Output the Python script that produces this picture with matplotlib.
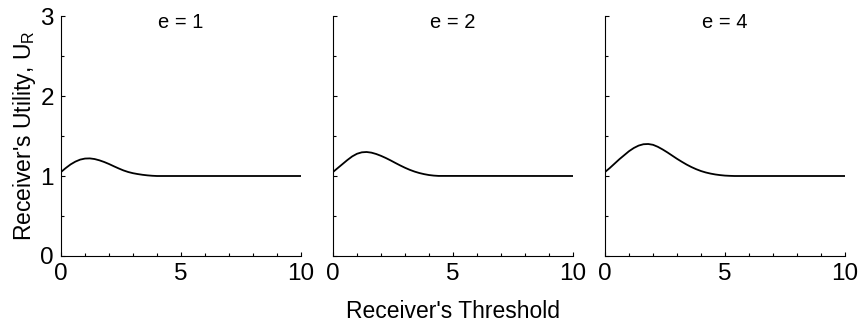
import matplotlib
matplotlib.use('Agg')
import matplotlib.pyplot as plt
from matplotlib.ticker import MultipleLocator

plt.rcParams['font.family'] = ['Liberation Sans', 'DejaVu Sans']

# values
x_e1 = [0, 0.2, 0.4, 0.6, 0.8, 1.0, 1.2, 1.4, 1.6, 1.8, 2.0, 2.2, 2.4, 2.6, 2.8, 3.0, 3.2, 3.4, 3.6, 3.8, 4.0, 10]
u_e1 = [1.05, 1.10, 1.145, 1.18, 1.205, 1.218, 1.22, 1.212, 1.196, 1.175, 1.15, 1.122, 1.095, 1.07, 1.05,
        1.035, 1.024, 1.015, 1.008, 1.003, 1.0, 1.0]

x_e2 = [0, 0.2, 0.4, 0.6, 0.8, 1.0, 1.2, 1.4, 1.6, 1.8, 2.0, 2.2, 2.4, 2.6, 2.8, 3.0, 3.2, 3.4, 3.6, 3.8,
        4.0, 4.2, 4.4, 10]
u_e2 = [1.05, 1.10, 1.15, 1.20, 1.245, 1.278, 1.296, 1.30, 1.292, 1.275, 1.252, 1.225, 1.195, 1.163, 1.132,
        1.103, 1.077, 1.055, 1.037, 1.023, 1.012, 1.005, 1.001, 1.0]

x_e4 = [0, 0.2, 0.4, 0.6, 0.8, 1.0, 1.2, 1.4, 1.6, 1.8, 2.0, 2.2, 2.4, 2.6, 2.8, 3.0, 3.2, 3.4, 3.6, 3.8,
        4.0, 4.2, 4.4, 4.6, 4.8, 5.0, 5.2, 5.4, 10]
u_e4 = [1.05, 1.10, 1.155, 1.21, 1.26, 1.31, 1.35, 1.38, 1.397, 1.40, 1.39, 1.365, 1.332, 1.295, 1.255,
        1.215, 1.178, 1.143, 1.112, 1.085, 1.062, 1.044, 1.03, 1.019, 1.011, 1.005, 1.002, 1.0, 1.0]

titles = ['e = 1', 'e = 2', 'e = 4']
series = [(x_e1, u_e1), (x_e2, u_e2), (x_e4, u_e4)]

fig = plt.figure(figsize=(8.61, 3.22), dpi=100)
lefts = [61, 333, 605]
axes = []
for i, (xs, us) in enumerate(series):
    ax = fig.add_axes([lefts[i] / 861, 66 / 322, 240 / 861, 240 / 322])
    ax.plot(xs, us, color='black', lw=1.3)
    ax.set_xlim(0, 10); ax.set_ylim(0, 3)
    ax.spines['top'].set_visible(False); ax.spines['right'].set_visible(False)
    ax.xaxis.set_major_locator(MultipleLocator(5)); ax.xaxis.set_minor_locator(MultipleLocator(1))
    ax.yaxis.set_major_locator(MultipleLocator(1)); ax.yaxis.set_minor_locator(MultipleLocator(0.5))
    ax.tick_params(which='both', direction='in', labelsize=17.5, width=0.8)
    ax.tick_params(which='major', length=3)
    ax.tick_params(which='minor', length=2)
    ax.tick_params(axis='x', pad=5)
    ax.tick_params(axis='y', pad=5)
    if i > 0:
        ax.tick_params(axis='y', labelleft=False)
    ax.text(5, 2.92, titles[i], ha='center', va='center', fontsize=14.5)
    axes.append(ax)

axes[0].set_ylabel("Receiver's Utility, U$_\\mathregular{R}$", fontsize=16.5, labelpad=2)
fig.text(453 / 861, 10 / 322, "Receiver's Threshold", ha='center', va='center', fontsize=16.5)

fig.savefig('out.png', dpi=100)
